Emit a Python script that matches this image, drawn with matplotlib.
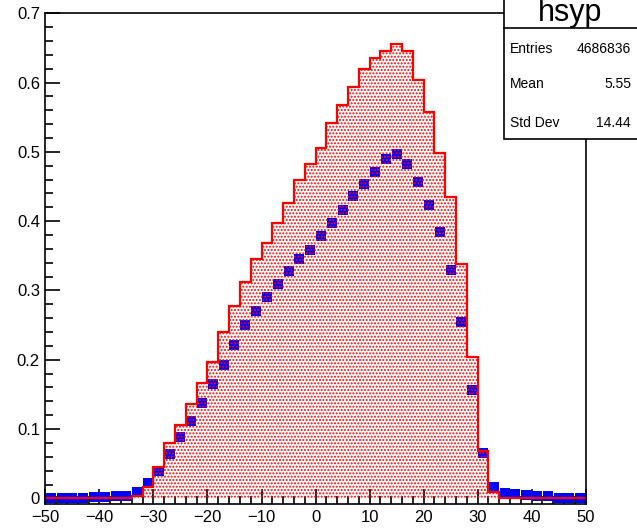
import numpy as np
import matplotlib
matplotlib.use("Agg")
import matplotlib.pyplot as plt
from matplotlib.patches import Rectangle
from matplotlib.lines import Line2D
from matplotlib.ticker import MultipleLocator, FormatStrFormatter

plt.rcParams['font.family'] = ['Liberation Sans', 'DejaVu Sans']
plt.rcParams['hatch.linewidth'] = 0.95

# histogram binning: 50 bins of width 2 from -50 to 50
bin_edges = np.arange(-50, 52, 2)
bin_centers = bin_edges[:-1] + 1

# red filled histogram (hsyp)
hsyp_values = [0.0006, 0.0006, 0.0006, 0.0006, 0.0006, 0.0006, 0.0006, 0.0006,
               0.0035, 0.017, 0.045, 0.080, 0.106, 0.136, 0.166, 0.197,
               0.240, 0.277, 0.312, 0.346, 0.369, 0.397, 0.426, 0.459,
               0.483, 0.506, 0.541, 0.567, 0.594, 0.619, 0.636, 0.646,
               0.656, 0.645, 0.603, 0.558, 0.499, 0.435, 0.338, 0.204,
               0.068, 0.009, 0.0006, 0.0006, 0.0006, 0.0006, 0.0006, 0.0006,
               0.0006, 0.0006]

# blue square markers (second histogram)
marker_values = [0.001, 0.001, 0.001, 0.001, 0.0015, 0.002, 0.003, 0.004,
                 0.009, 0.022, 0.040, 0.0645, 0.088, 0.111, 0.138, 0.165,
                 0.192, 0.221, 0.250, 0.270, 0.291, 0.309, 0.328, 0.345,
                 0.359, 0.378, 0.397, 0.416, 0.436, 0.454, 0.4705, 0.489,
                 0.497, 0.483, 0.457, 0.423, 0.384, 0.330, 0.254, 0.156,
                 0.065, 0.017, 0.008, 0.006, 0.005, 0.003, 0.003, 0.001,
                 0.001, 0.001]

# stats box
hist_name = "hsyp"
stat_labels = ["Entries", "Mean", "Std Dev"]
stat_values = ["4686836", "5.55", "14.44"]

fig = plt.figure(figsize=(6.37, 5.29), dpi=100)
ax = fig.add_axes([0.0714, 0.0482, 0.8478, 0.9267])

# markers first, the dotted fill sits on top of them
ax.plot(bin_centers, marker_values, 's', color='#0000ff', markersize=7.2,
        markeredgewidth=0, zorder=2)

ax.stairs(hsyp_values, bin_edges, fill=True, facecolor='none', edgecolor='red',
          hatch='.....', linewidth=0, zorder=3)
ax.stairs(hsyp_values, bin_edges, color='red', linewidth=1.6, zorder=4)

ax.set_xlim(-50, 50)
ax.set_ylim(-0.0074, 0.7)

ax.xaxis.set_major_locator(MultipleLocator(10))
ax.xaxis.set_minor_locator(MultipleLocator(2))
ax.yaxis.set_major_locator(MultipleLocator(0.1))
ax.yaxis.set_minor_locator(MultipleLocator(0.02))
ax.yaxis.set_major_formatter(FormatStrFormatter('%g'))

ax.tick_params(which='both', direction='in', top=False, right=False,
               labelsize=12, width=1.2, colors='black')
ax.tick_params(which='major', length=11)
ax.tick_params(which='minor', length=5.5)
ax.tick_params(axis='y', pad=4)
ax.tick_params(axis='x', pad=5)

for side in ax.spines.values():
    side.set_linewidth(1.2)
    side.set_zorder(5)

# stats box in the top right corner
bx0 = 504 / 637
by0 = 1 - 138.5 / 529
fig.add_artist(Rectangle((bx0, by0), 1.05 - bx0, 1.05 - by0, transform=fig.transFigure,
                         facecolor='white', edgecolor='black', linewidth=1.2, zorder=10))
fig.add_artist(Line2D([bx0, 1.0], [1 - 28 / 529, 1 - 28 / 529], transform=fig.transFigure,
                      color='black', linewidth=1.2, zorder=11))
fig.text((504 + 637) / 2 / 637, 1 - 20.5 / 529, hist_name, ha='center', va='baseline',
         fontsize=22, zorder=12)

row_y = [49.3, 84.3, 122.7]
for lab, val, yy in zip(stat_labels, stat_values, row_y):
    fig.text(510 / 637, 1 - yy / 529, lab, ha='left', va='center', fontsize=10, zorder=12)
    fig.text(631 / 637, 1 - yy / 529, val, ha='right', va='center', fontsize=10, zorder=12)

fig.savefig("out.png", dpi=100)
